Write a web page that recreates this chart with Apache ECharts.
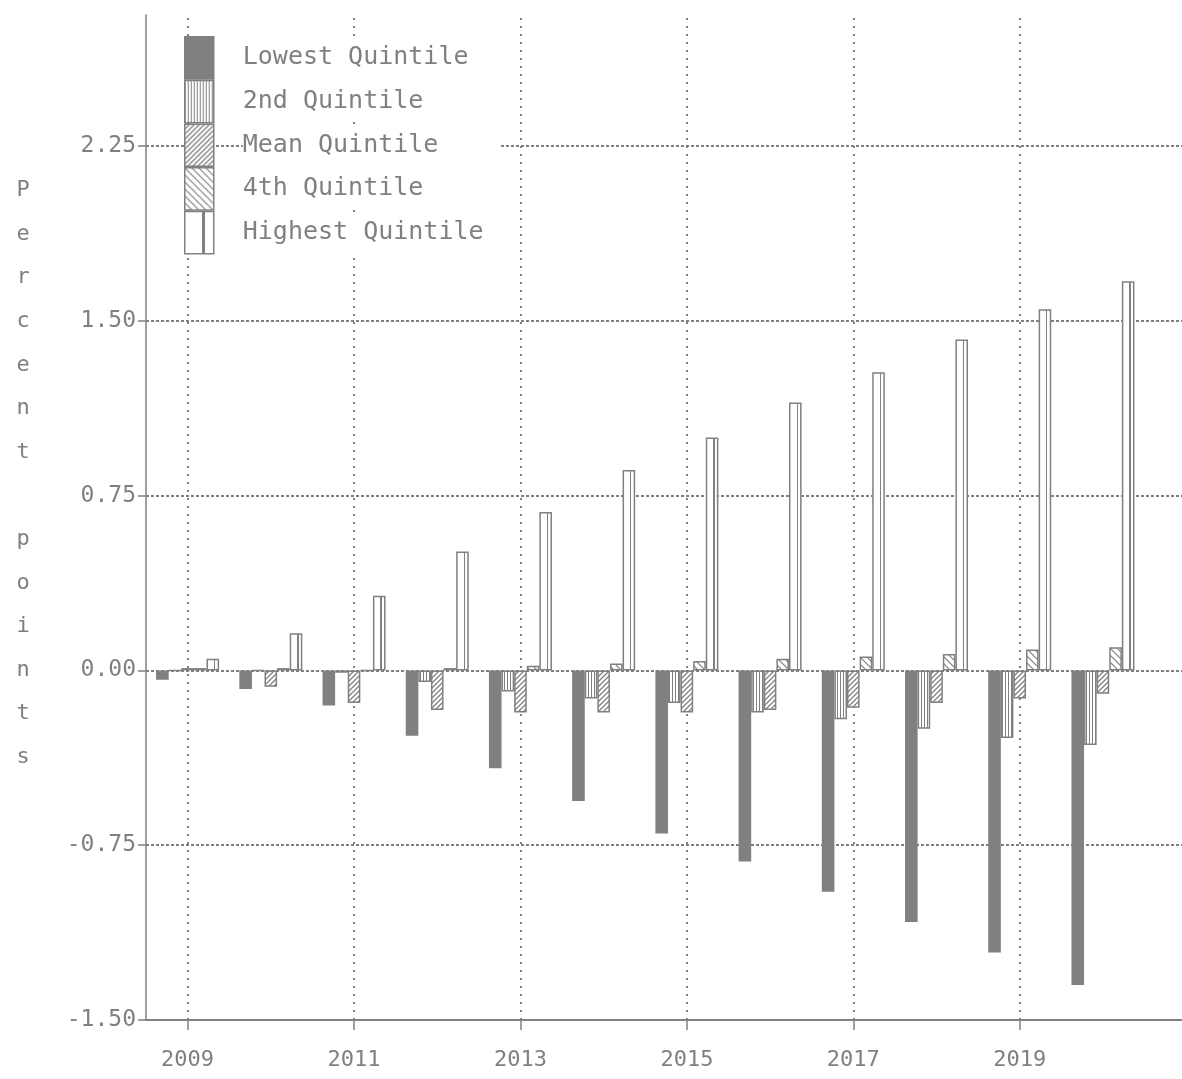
<!DOCTYPE html>
<html>
<head>
<meta charset="utf-8">
<script src="https://cdn.jsdelivr.net/npm/echarts@6/dist/echarts.min.js"></script>
<style>
  html, body { margin: 0; padding: 0; background: #fff; }
  #chart { width: 1182px; height: 1079px; }
</style>
</head>
<body>
<div id="chart"></div>
<script>
// Change in share, percentage points, by income quintile
const years = [2009, 2010, 2011, 2012, 2013, 2014, 2015, 2016, 2017, 2018, 2019, 2020];
const lowestQuintile  = [-0.04, -0.08, -0.15, -0.28, -0.42, -0.56, -0.70, -0.82, -0.95, -1.08, -1.21, -1.35];
const secondQuintile  = [0.00, 0.00, -0.01, -0.05, -0.09, -0.12, -0.14, -0.18, -0.21, -0.25, -0.29, -0.32];
const meanQuintile    = [0.01, -0.07, -0.14, -0.17, -0.18, -0.18, -0.18, -0.17, -0.16, -0.14, -0.12, -0.10];
const fourthQuintile  = [0.01, 0.01, 0.00, 0.01, 0.02, 0.03, 0.04, 0.05, 0.06, 0.07, 0.09, 0.10];
const highestQuintile = [0.05, 0.16, 0.32, 0.51, 0.68, 0.86, 1.00, 1.15, 1.28, 1.42, 1.55, 1.67];

const seriesNames = ['Lowest Quintile', '2nd Quintile', 'Mean Quintile', '4th Quintile', 'Highest Quintile'];
const yTickValues = [-1.5, -0.75, 0, 0.75, 1.5, 2.25];
const xTickYears = [2009, 2011, 2013, 2015, 2017, 2019];
const axisTitle = 'Percent points';

const GRAY = '#808080';
const FONT = '"DejaVu Sans Mono", "Liberation Mono", monospace';

// Small tiled canvases used as fill patterns
function pattern(w, h, draw) {
  const c = document.createElement('canvas');
  c.width = w; c.height = h;
  const g = c.getContext('2d');
  g.fillStyle = '#fff';
  g.fillRect(0, 0, w, h);
  g.fillStyle = GRAY;
  g.strokeStyle = GRAY;
  draw(g, w, h);
  return { image: c, repeat: 'repeat' };
}

const verticalStripes = pattern(3, 3, g => { g.fillRect(0, 0, 1, 3); });
const forwardHatch = pattern(5, 5, g => {
  g.lineWidth = 1.3;
  g.beginPath();
  g.moveTo(-1, 6); g.lineTo(6, -1);
  g.moveTo(-1, 1); g.lineTo(1, -1);
  g.moveTo(4, 6); g.lineTo(6, 4);
  g.stroke();
});
const backwardHatch = pattern(7, 7, g => {
  g.lineWidth = 1.2;
  g.beginPath();
  g.moveTo(-1, -1); g.lineTo(8, 8);
  g.moveTo(-1, 6); g.lineTo(1, 8);
  g.moveTo(6, -1); g.lineTo(8, 1);
  g.stroke();
});
// White fill with a single inner rule, placed relative to each bar
const singleRule = {
  type: 'linear', x: 0, y: 0, x2: 1, y2: 0,
  colorStops: [
    { offset: 0, color: '#fff' }, { offset: 0.6, color: '#fff' },
    { offset: 0.6, color: GRAY }, { offset: 0.7, color: GRAY },
    { offset: 0.7, color: '#fff' }, { offset: 1, color: '#fff' }
  ]
};

function barSeries(name, values, fill) {
  return {
    name: name,
    type: 'bar',
    z: 3,
    data: years.map((y, i) => [y, values[i]]),
    barWidth: 12.6,
    barGap: '0%',
    itemStyle: { color: fill, borderColor: GRAY, borderWidth: 1.5 },
    emphasis: { disabled: true },
    animation: false
  };
}

const series = [
  barSeries(seriesNames[0], lowestQuintile, GRAY),
  barSeries(seriesNames[1], secondQuintile, verticalStripes),
  barSeries(seriesNames[2], meanQuintile, forwardHatch),
  barSeries(seriesNames[3], fourthQuintile, backwardHatch),
  barSeries(seriesNames[4], highestQuintile, singleRule),
  // Dotted reference grid
  {
    type: 'line',
    data: [],
    silent: true,
    animation: false,
    markLine: {
      silent: true,
      symbol: 'none',
      animation: false,
      z: 1,
      label: { show: false },
      emphasis: { disabled: true },
      data: yTickValues.filter(v => v > yTickValues[0])
        .map(v => ({ yAxis: v, lineStyle: { type: [3, 2], width: 2, color: GRAY } }))
        .concat(xTickYears.map(v => ({ xAxis: v, lineStyle: { type: [2, 6], width: 2, color: GRAY } })))
    }
  }
];

const chart = echarts.init(document.getElementById('chart'), null, { renderer: 'canvas' });
chart.setOption({
  backgroundColor: '#fff',
  animation: false,
  grid: { left: 146, right: 0, top: 15, bottom: 59, containLabel: false, outerBoundsMode: 'none' },
  legend: {
    data: seriesNames,
    orient: 'vertical',
    left: 184,
    top: 36,
    padding: 0,
    itemGap: 0,
    itemWidth: 29,
    itemHeight: 42.2,
    icon: 'rect',
    selectedMode: false,
    itemStyle: { borderColor: GRAY, borderWidth: 1.5 },
    formatter: n => '{t|' + n + '}',
    textStyle: {
      color: GRAY, fontFamily: FONT, fontSize: 25,
      padding: [0, 0, 0, 24],
      rich: {
        t: { color: GRAY, fontFamily: FONT, fontSize: 25, backgroundColor: '#fff', width: 258, height: 40, lineHeight: 40 }
      }
    }
  },
  xAxis: {
    type: 'value',
    min: 2008.5,
    max: 2020.95,
    splitLine: { show: false },
    axisLine: { show: true, onZero: false, lineStyle: { color: GRAY, width: 2 } },
    axisTick: { show: true, customValues: xTickYears, length: 10, lineStyle: { color: GRAY, width: 1.5 } },
    axisLabel: { customValues: xTickYears, color: GRAY, fontFamily: FONT, fontSize: 22, margin: 29, formatter: v => String(v) }
  },
  yAxis: {
    type: 'value',
    min: -1.5,
    max: 2.8125,
    splitLine: { show: false },
    axisLine: { show: true, onZero: false, lineStyle: { color: GRAY, width: 1.5 } },
    axisTick: { show: true, customValues: yTickValues, length: 8, lineStyle: { color: GRAY, width: 1.5 } },
    axisLabel: { customValues: yTickValues, color: GRAY, fontFamily: FONT, fontSize: 23, margin: 10, formatter: v => v.toFixed(2) },
    name: axisTitle.split('').join('\n') + '\n \n ',
    nameLocation: 'middle',
    nameRotate: 0,
    nameGap: 123,
    nameTextStyle: { color: GRAY, fontFamily: FONT, fontSize: 22, lineHeight: 43.6, align: 'center', verticalAlign: 'middle' }
  },
  series: series
});
</script>
</body>
</html>
